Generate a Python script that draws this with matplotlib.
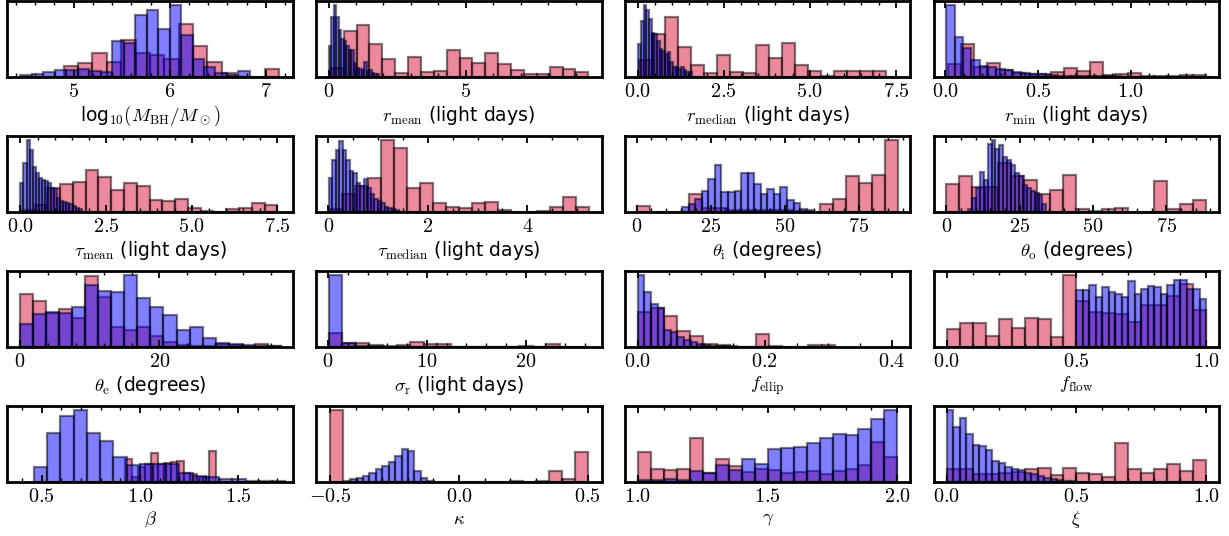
import numpy as np
import matplotlib
matplotlib.use("Agg")
import matplotlib.pyplot as plt
from matplotlib.ticker import MultipleLocator, FuncFormatter

plt.rcParams['mathtext.fontset'] = 'cm'
plt.rcParams['font.family'] = ['DejaVu Sans']

# ---- data: (lo, hi) bin ranges and bar heights for each histogram ----
mbh_red_range = (4.897, 7.138)
mbh_red = [32, 42, 75, 47, 114, 72, 66, 55, 162, 96, 47, 12, 0, 0, 25]
mbh_blue_range = (4.446, 6.834)
mbh_blue = [6, 8, 16, 22, 20, 24, 18, 14, 110, 104, 190, 205, 148, 222, 130, 54, 29, 12, 6, 17]

rmean_red_range = (0.085, 9.455)
rmean_red = [27, 142, 162, 102, 57, 12, 62, 14, 18, 85, 59, 42, 75, 39, 21, 8, 8, 32, 24, 15]
rmean_blue_range = (0.0, 1.85)
rmean_blue = [97, 187, 224, 187, 144, 117, 112, 97, 82, 82, 42, 27, 25, 22, 47, 17, 22, 12, 10, 8]

rmed_red_range = (0.04, 7.58)
rmed_red = [52, 132, 183, 92, 35, 13, 67, 15, 11, 97, 58, 102, 36, 19, 3, 17, 17, 17, 17, 0]
rmed_blue_range = (0.02, 1.57)
rmed_blue = [100, 170, 220, 205, 175, 135, 130, 110, 85, 80, 70, 75, 45, 30, 30, 25, 30, 20, 15, 15]

rmin_red_range = (0.014, 1.405)
rmin_red = [40, 102, 30, 43, 20, 12, 8, 8, 15, 27, 18, 45, 5, 8, 12, 4, 2, 2, 6, 6]
rmin_blue_range = (0.005, 1.445)
rmin_blue = [222, 123, 90, 52, 32, 30, 23, 20, 15, 12, 10, 8, 5, 4, 3, 3, 2, 2, 2, 2,
             2, 1, 1, 1, 1, 1, 1, 1, 1, 1, 1, 1]

tmean_red_range = (0.04, 7.5)
tmean_red = [5, 22, 73, 86, 90, 128, 106, 66, 88, 80, 36, 33, 38, 13, 2, 0, 10, 13, 28, 20]
tmean_blue_range = (0.0, 1.79)
tmean_blue = [88, 148, 220, 188, 138, 118, 103, 96, 93, 88, 73, 70, 43, 33, 30, 26, 23, 18, 13, 8]

tmed_red_range = (0.02, 5.23)
tmed_red = [8, 53, 78, 103, 218, 193, 73, 86, 26, 16, 11, 26, 30, 6, 0, 0, 2, 16, 46, 16]
tmed_blue_range = (0.016, 1.42)
tmed_blue = [103, 158, 188, 213, 188, 158, 123, 118, 88, 78, 100, 73, 53, 38, 33, 26, 16, 12, 10, 6]

thi_red_range = (0.0, 88.3)
thi_red = [18, 0, 0, 0, 53, 13, 13, 5, 6, 6, 6, 6, 2, 0, 23, 38, 108, 88, 110, 218]
thi_blue_range = (15.4, 59.7)
thi_blue = [16, 23, 40, 63, 98, 143, 60, 60, 63, 118, 118, 83, 53, 68, 53, 76, 36, 26, 10, 6]

tho_red_range = (0.0, 88.4)
tho_red = [86, 108, 76, 76, 150, 108, 98, 53, 68, 113, 10, 3, 8, 12, 0, 0, 93, 8, 23, 36]
tho_blue_range = (7.4, 34.1)
tho_blue = [10, 43, 73, 120, 98, 208, 220, 193, 203, 168, 158, 143, 118, 108, 83, 73, 63, 58, 50, 23]

the_red_range = (0.0, 37.4)
the_red = [158, 136, 100, 114, 86, 211, 150, 58, 51, 58, 34, 16, 6, 4, 2, 8, 6, 4, 9, 4]
the_blue_range = (0.0, 37.4)
the_blue = [68, 98, 104, 102, 118, 186, 166, 164, 216, 146, 118, 94, 51, 58, 28, 13, 8, 6, 4, 2]

sig_red_range = (0.05, 23.5)
sig_red = [43, 13, 13, 6, 2, 6, 16, 10, 8, 0, 0, 0, 0, 0, 3, 0, 10]
sig_blue_range = (0.1, 26.4)
sig_blue = [218, 11, 4, 2, 1, 1, 1, 0, 0, 0, 0, 0, 0, 0, 0, 0, 0, 0, 0, 1]

fell_red_range = (0.0, 0.31)
fell_red = [104, 116, 94, 48, 33, 9, 6, 0, 0, 39, 3, 0, 0, 6, 6]
fell_blue_range = (0.0, 0.208)
fell_blue = [218, 166, 128, 116, 51, 46, 31, 21, 14, 8, 6, 4, 3, 2, 2, 1, 1, 1, 1, 1]

fflow_red_range = (0.0, 1.0)
fflow_red = [54, 71, 71, 34, 83, 56, 86, 84, 31, 218, 138, 106, 101, 98, 76, 126, 126, 154, 190, 111]
fflow_blue_range = (0.5, 1.0)
fflow_blue = [171, 171, 186, 151, 181, 166, 161, 151, 198, 161, 174, 184, 181, 161, 186, 201, 201, 176, 176, 146]

beta_red_range = (0.925, 1.387)
beta_red = [68, 16, 46, 54, 88, 54, 56, 61, 64, 26, 24, 14, 14, 94]
beta_blue_range = (0.46, 1.74)
beta_blue = [44, 148, 198, 218, 148, 124, 74, 52, 54, 55, 55, 26, 18, 14, 8, 8, 4, 2, 2]

kap_red_range = (-0.5, 0.5)
kap_red = [218, 0, 0, 0, 0, 0, 0, 0, 0, 0, 0, 0, 0, 0, 3, 0, 4, 33, 8, 91]
kap_blue_range = (-0.448, -0.098)
kap_blue = [4, 8, 11, 18, 28, 38, 48, 61, 78, 98, 94, 34, 11, 4]

gam_red_range = (1.0, 2.0)
gam_red = [90, 40, 35, 40, 133, 27, 70, 47, 30, 40, 37, 27, 30, 33, 23, 32, 38, 50, 120, 75]
gam_blue_range = (1.0, 2.0)
gam_blue = [7, 5, 10, 7, 33, 27, 50, 37, 70, 53, 100, 103, 105, 117, 133, 145, 143, 160, 190, 220]

xi_red_range = (0.0, 1.0)
xi_red = [40, 40, 23, 23, 27, 30, 40, 43, 20, 43, 27, 25, 15, 117, 38, 27, 40, 53, 32, 67]
xi_blue_range = (0.0, 0.5)
xi_blue = [220, 167, 195, 147, 113, 110, 97, 63, 57, 45, 40, 35, 27, 23, 17, 13, 9, 5, 3, 2]

labels = [r'log$_{10}(M_{\rm BH}/M_\odot)$', r'$r_{\rm mean}$ (light days)',
          r'$r_{\rm median}$ (light days)', r'$r_{\rm min}$ (light days)',
          r'$\tau_{\rm mean}$ (light days)', r'$\tau_{\rm median}$ (light days)',
          r'$\theta_{\rm i}$ (degrees)', r'$\theta_{\rm o}$ (degrees)',
          r'$\theta_{\rm e}$ (degrees)', r'$\sigma_{\rm r}$ (light days)',
          r'$f_{\rm ellip}$', r'$f_{\rm flow}$',
          r'$\beta$', r'$\kappa$', r'$\gamma$', r'$\xi$']

# panel layout: xlim, major tick step, minor tick step
panels = [
    (mbh_red_range, mbh_red, mbh_blue_range, mbh_blue, (4.31, 7.28), 1, 0.2),
    (rmean_red_range, rmean_red, rmean_blue_range, rmean_blue, (-0.45, 9.94), 5, 1),
    (rmed_red_range, rmed_red, rmed_blue_range, rmed_blue, (-0.37, 7.92), 2.5, 0.5),
    (rmin_red_range, rmin_red, rmin_blue_range, rmin_blue, (-0.063, 1.478), 0.5, 0.1),
    (tmean_red_range, tmean_red, tmean_blue_range, tmean_blue, (-0.38, 7.95), 2.5, 0.5),
    (tmed_red_range, tmed_red, tmed_blue_range, tmed_blue, (-0.24, 5.49), 2, 0.5),
    (thi_red_range, thi_red, thi_blue_range, thi_blue, (-3.9, 92.5), 25, 5),
    (tho_red_range, tho_red, tho_blue_range, tho_blue, (-4.3, 93.0), 25, 5),
    (the_red_range, the_red, the_blue_range, the_blue, (-1.8, 39.1), 20, 4),
    (sig_red_range, sig_red, sig_blue_range, sig_blue, (-1.2, 27.7), 10, 2),
    (fell_red_range, fell_red, fell_blue_range, fell_blue, (-0.02, 0.429), 0.2, 0.05),
    (fflow_red_range, fflow_red, fflow_blue_range, fflow_blue, (-0.05, 1.05), 0.5, 0.1),
    (beta_red_range, beta_red, beta_blue_range, beta_blue, (0.325, 1.778), 0.5, 0.1),
    (kap_red_range, kap_red, kap_blue_range, kap_blue, (-0.555, 0.554), 0.5, 0.1),
    (gam_red_range, gam_red, gam_blue_range, gam_blue, (0.95, 2.05), 0.5, 0.1),
    (xi_red_range, xi_red, xi_blue_range, xi_blue, (-0.05, 1.05), 0.5, 0.1),
]


def draw_hist(ax, rng, heights, color):
    edges = np.linspace(rng[0], rng[1], len(heights) + 1)
    ax.bar(edges[:-1], heights, width=np.diff(edges), align='edge',
           color=color, alpha=0.5, edgecolor='k', linewidth=1.6)


def tick_fmt(step):
    nd = 0 if float(step).is_integer() else 1

    def f(x, pos):
        s = '%.*f' % (nd, x)
        if s.startswith('-'):
            s = '-' + s[1:]
        return '$' + s + '$'
    return FuncFormatter(f)


fig, axes = plt.subplots(4, 4, figsize=(12.29, 5.36), dpi=100)
fig.subplots_adjust(left=0.006, right=0.992, top=0.998, bottom=0.101,
                    wspace=0.082, hspace=0.78)

for ax, p, lab in zip(axes.flat, panels, labels):
    red_rng, red_h, blue_rng, blue_h, xlim, major, minor = p
    draw_hist(ax, red_rng, red_h, 'crimson')
    draw_hist(ax, blue_rng, blue_h, 'blue')
    ax.set_xlim(xlim)
    ax.set_ylim(0, max(max(red_h), max(blue_h)) * 1.05)
    ax.set_yticks([])
    ax.xaxis.set_major_locator(MultipleLocator(major))
    ax.xaxis.set_minor_locator(MultipleLocator(minor))
    ax.xaxis.set_major_formatter(tick_fmt(major))
    ax.tick_params(axis='x', which='both', direction='in', top=True, bottom=True,
                   labelsize=14.5, pad=4)
    ax.tick_params(axis='x', which='major', length=5, width=1.3)
    ax.tick_params(axis='x', which='minor', length=3, width=1.0)
    for s in ax.spines.values():
        s.set_linewidth(2)
    ax.set_xlabel(lab, fontsize=13.5, labelpad=2)

fig.savefig('out.png', dpi=100)
